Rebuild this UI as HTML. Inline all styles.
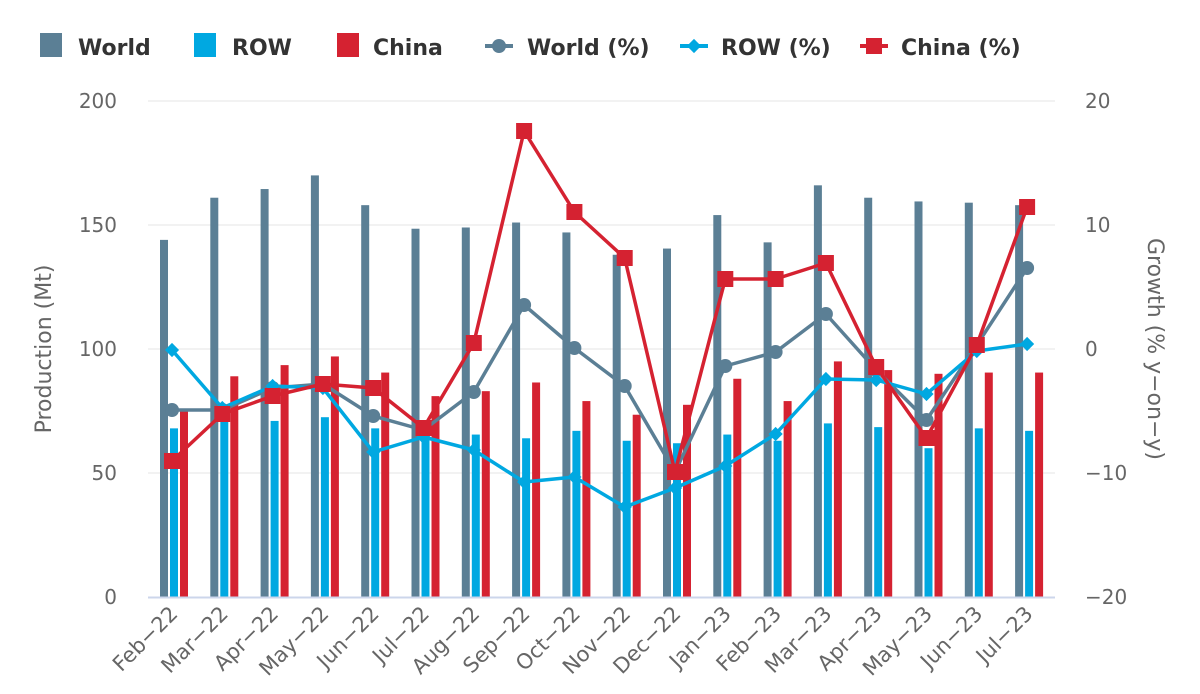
<!DOCTYPE html>
<html><head><meta charset="utf-8"><style>
html,body{margin:0;padding:0;background:#fff;}
svg{display:block;font-family:"DejaVu Sans","Liberation Sans",sans-serif;}
</style></head><body>
<svg id="c" width="1200" height="694" xmlns="http://www.w3.org/2000/svg"></svg>
<script>
const s=document.getElementById('c');let h='';
const W='#5b7f95',R='#00a8e1',C='#d52231';
[[101,'200','20'],[225,'150','10'],[349,'100','0'],[473,'50','−10'],[597,'0','−20']].forEach(([y,l,r])=>{
 if(y<597)h+=`<line x1="148" x2="1055" y1="${y}" y2="${y}" stroke="#e6e6e6" stroke-width="1"/>`;
 h+=`<text x="117" y="${y+7}" text-anchor="end" font-size="20" fill="#666">${l}</text>`;
 h+=`<text x="1085" y="${y+7}" text-anchor="start" font-size="20" fill="#666">${r}</text>`;
});
h+=`<text transform="translate(51,349) rotate(-90)" text-anchor="middle" font-size="22" fill="#666">Production (Mt)</text>`;
h+=`<text transform="translate(1148,349) rotate(90)" text-anchor="middle" font-size="22" fill="#666">Growth (% y−on−y)</text>`;
const labs=['Feb−22','Mar−22','Apr−22','May−22','Jun−22','Jul−22','Aug−22','Sep−22','Oct−22','Nov−22','Dec−22','Jan−23','Feb−23','Mar−23','Apr−23','May−23','Jun−23','Jul−23'];
const w=[144,161,164.5,170,158,148.5,149,151,147,138,140.5,154,143,166,161,159.5,159,158];
const r=[68,73,71,72.5,68,67,65.5,64,67,63,62,65.5,63,70,68.5,60,68,67];
const c=[75,89,93.5,97,90.5,81,83,86.5,79,73.5,77.5,88,79,95,91.5,90,90.5,90.5];
const wp=[410,410,388,384,416,430,392,305,348,386,472,366,352,314,370,420,345,268];
const rp=[350,408,386,388,452,437,450,482,477,507,488,466,434,379,380,394,351,344];
const cp=[461,414,396,384,388,428,343,131,212,258,472,279,279,263,367,438,345,207];
const X=i=>172+i*50.3, Y=v=>597-v*2.48;
labs.forEach((l,i)=>{const x=X(i);
 h+=`<rect x="${x-12}" y="${Y(w[i])}" width="8" height="${w[i]*2.48}" fill="${W}"/>`;
 h+=`<rect x="${x-2}" y="${Y(r[i])}" width="8" height="${r[i]*2.48}" fill="${R}"/>`;
 h+=`<rect x="${x+8}" y="${Y(c[i])}" width="8" height="${c[i]*2.48}" fill="${C}"/>`;
 h+=`<text transform="translate(${x+7},615) rotate(-45)" text-anchor="end" font-size="21" fill="#666">${l}</text>`;
});
h+=`<line x1="148" x2="1055" y1="597.5" y2="597.5" stroke="#ccd6eb" stroke-width="2"/>`;
const pl=(a,col)=>`<polyline fill="none" stroke="${col}" stroke-width="3.5" stroke-linejoin="round" points="${a.map((y,i)=>X(i)+','+y).join(' ')}"/>`;
h+=pl(wp,W)+pl(rp,R)+pl(cp,C);
wp.forEach((y,i)=>h+=`<circle cx="${X(i)}" cy="${y}" r="7" fill="${W}"/>`);
rp.forEach((y,i)=>h+=`<rect x="${X(i)-5}" y="${y-5}" width="10" height="10" fill="${R}" transform="rotate(45 ${X(i)} ${y})"/>`);
cp.forEach((y,i)=>h+=`<rect x="${X(i)-8}" y="${y-8}" width="16" height="16" fill="${C}"/>`);
const lg=(x,t)=>`<text x="${x}" y="55" font-size="22" font-weight="bold" fill="#333">${t}</text>`;
h+=`<rect x="40" y="33" width="22" height="24" fill="${W}"/>`+lg(78,'World');
h+=`<rect x="194" y="33" width="22" height="24" fill="${R}"/>`+lg(232,'ROW');
h+=`<rect x="337" y="33" width="22" height="24" fill="${C}"/>`+lg(373,'China');
h+=`<line x1="485" x2="513" y1="46" y2="46" stroke="${W}" stroke-width="4"/><circle cx="499" cy="46" r="7" fill="${W}"/>`+lg(527,'World (%)');
h+=`<line x1="680" x2="708" y1="46" y2="46" stroke="${R}" stroke-width="4"/><rect x="689" y="41" width="10" height="10" fill="${R}" transform="rotate(45 694 46)"/>`+lg(721,'ROW (%)');
h+=`<line x1="860" x2="888" y1="46" y2="46" stroke="${C}" stroke-width="4"/><rect x="866" y="38" width="16" height="16" fill="${C}"/>`+lg(901,'China (%)');
s.innerHTML=h;
</script>
</body></html>
